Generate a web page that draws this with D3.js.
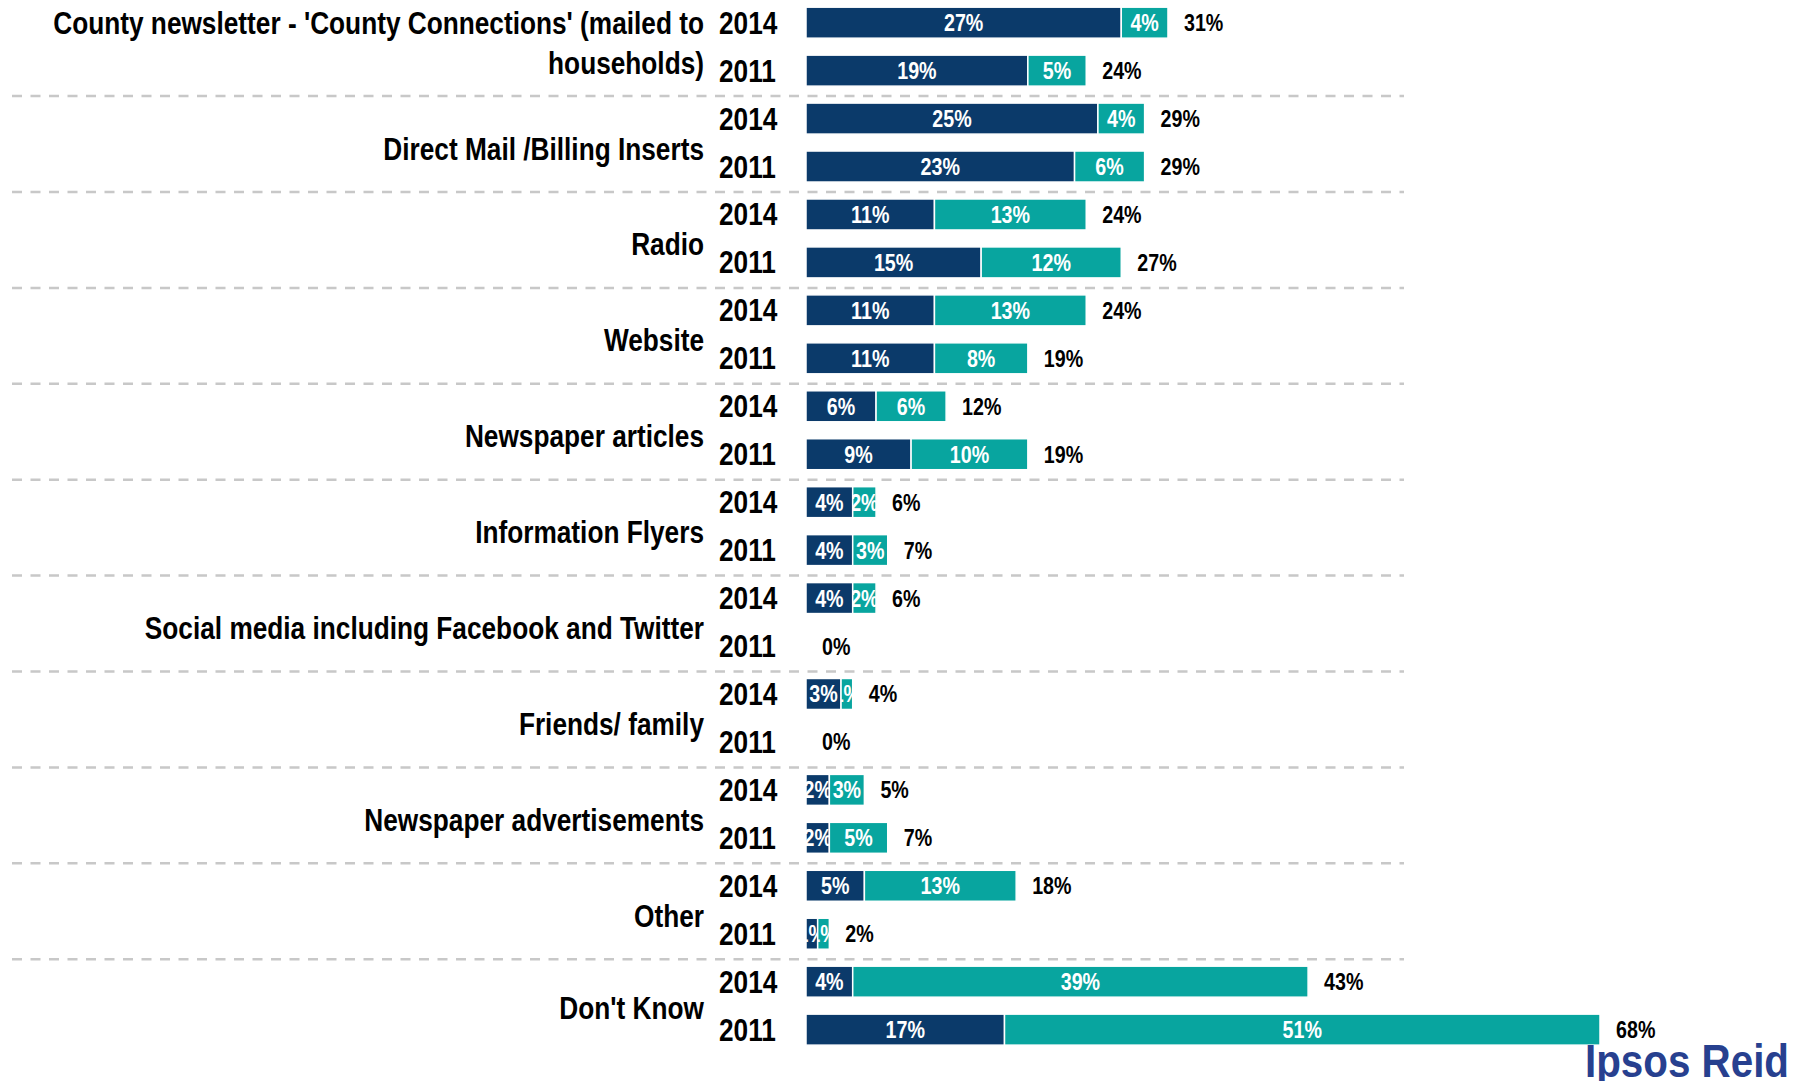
<!DOCTYPE html>
<html>
<head>
<meta charset="utf-8">
<script src="https://cdn.jsdelivr.net/npm/d3@7"></script>
<style>
  body { margin: 0; background: #fff; }
  text { font-family: "Liberation Sans", Arial, sans-serif; font-weight: bold; }
  .sep { stroke: #c8c8c8; stroke-width: 2.5; stroke-dasharray: 10 8.5; }
</style>
</head>
<body>
<svg width="1804" height="1081"></svg>
<script>
var categories = [
  "County newsletter - 'County Connections' (mailed to households)",
  "Direct Mail /Billing Inserts",
  "Radio",
  "Website",
  "Newspaper articles",
  "Information Flyers",
  "Social media including Facebook and Twitter",
  "Friends/ family",
  "Newspaper advertisements",
  "Other",
  "Don't Know"
];
var years = ["2014", "2011"];
var dark2014 = [27, 25, 11, 11, 6, 4, 4, 3, 2, 5, 4];
var teal2014 = [4, 4, 13, 13, 6, 2, 2, 1, 3, 13, 39];
var dark2011 = [19, 23, 15, 11, 9, 4, 0, 0, 2, 1, 17];
var teal2011 = [5, 6, 12, 8, 10, 3, 0, 0, 5, 1, 51];

var svg = d3.select("svg"),
    width = +svg.attr("width"),
    height = +svg.attr("height"),
    navy = "#0b3a6a",
    teal = "#08a59f",
    barH = 31,
    narrow = 0.82; // squeeze Liberation Sans to look like Arial Narrow

// translate + horizontal squeeze for a narrow look
function nt(x0, y0) { return "translate(" + x0 + "," + y0 + ") scale(" + narrow + ",1)"; }

// one row per category/year
var rows = [];
categories.forEach(function (c, i) {
  years.forEach(function (yr) {
    rows.push({
      cat: c, gi: i, year: yr,
      dark: yr === "2014" ? dark2014[i] : dark2011[i],
      teal: yr === "2014" ? teal2014[i] : teal2011[i]
    });
  });
});
rows.forEach(function (d, i) { d.key = i; d.total = d.dark + d.teal; });

var x = d3.scaleLinear().domain([0, 68]).range([806, 1600]);
var y = d3.scaleBand()
    .domain(rows.map(function (d) { return d.key; }))
    .range([-1.3, -1.3 + rows.length * 47.95]);
var cy = function (d) { return y(d.key) + y.bandwidth() / 2; };

// dashed separators between groups
svg.selectAll("line.sep")
  .data(d3.range(1, categories.length))
  .enter().append("line")
    .attr("class", "sep")
    .attr("x1", 12).attr("x2", 1404)
    .attr("y1", function (g) { return y(g * 2) + 1.5; })
    .attr("y2", function (g) { return y(g * 2) + 1.5; });

// category labels
svg.selectAll("text.cat")
  .data(categories)
  .enter().append("text")
    .attr("class", "cat")
    .attr("text-anchor", "end")
    .attr("font-size", 32)
    .each(function (c, i) {
      var mid = (y(i * 2) + y(i * 2 + 1) + y.bandwidth()) / 2;
      var t = d3.select(this);
      if (i === 0) {
        t.attr("transform", nt(704, mid - 13));
        t.append("tspan").attr("x", 0).attr("y", 0).text("County newsletter - 'County Connections' (mailed to");
        t.append("tspan").attr("x", 0).attr("y", 40).text("households)");
      } else {
        t.attr("transform", nt(704, mid + (i === categories.length - 1 ? 13 : 17))).text(c);
      }
    });

// year labels
svg.selectAll("text.year")
  .data(rows)
  .enter().append("text")
    .attr("class", "year")
    .attr("font-size", 32)
    .attr("transform", function (d) { return nt(719, cy(d) + 11); })
    .text(function (d) { return d.year; });

// segments
var segs = [];
rows.forEach(function (d) {
  segs.push({ row: d, x0: 0, v: d.dark, color: navy, id: "s" + d.key + "a" });
  segs.push({ row: d, x0: d.dark, v: d.teal, color: teal, id: "s" + d.key + "b" });
});
segs = segs.filter(function (s) { return s.v > 0; });

var defs = svg.append("defs");
defs.selectAll("clipPath")
  .data(segs)
  .enter().append("clipPath")
    .attr("id", function (s) { return s.id; })
  .append("rect")
    .attr("x", function (s) { return x(s.x0); })
    .attr("y", function (s) { return cy(s.row) - barH / 2; })
    .attr("width", function (s) { return x(s.x0 + s.v) - x(s.x0); })
    .attr("height", barH);

var segG = svg.selectAll("g.seg")
  .data(segs)
  .enter().append("g")
    .attr("class", "seg");
segG.append("rect")
    .attr("x", function (s) { return x(s.x0); })
    .attr("y", function (s) { return cy(s.row) - barH / 2; })
    .attr("width", function (s) { return x(s.x0 + s.v) - x(s.x0); })
    .attr("height", barH)
    .style("fill", function (s) { return s.color; })
    .style("stroke", "#fff")
    .style("stroke-width", 1.5);
segG.append("g")
    .attr("clip-path", function (s) { return "url(#" + s.id + ")"; })
  .append("text")
    .attr("text-anchor", "middle")
    .attr("font-size", 24)
    .attr("fill", "#fff")
    .attr("transform", function (s) { return nt((x(s.x0) + x(s.x0 + s.v)) / 2, cy(s.row) + 8.5); })
    .text(function (s) { return s.v + "%"; });

// totals
svg.selectAll("text.total")
  .data(rows)
  .enter().append("text")
    .attr("class", "total")
    .attr("font-size", 24)
    .attr("transform", function (d) { return nt(x(d.total) + 16, cy(d) + 8.5); })
    .text(function (d) { return d.total + "%"; });

// logo
svg.append("text")
    .attr("x", 1585)
    .attr("y", 1077)
    .attr("font-size", 46)
    .attr("textLength", 204)
    .attr("lengthAdjust", "spacingAndGlyphs")
    .style("font-weight", "bold")
    .attr("fill", "#27408f")
    .text("Ipsos Reid");
</script>
</body>
</html>
